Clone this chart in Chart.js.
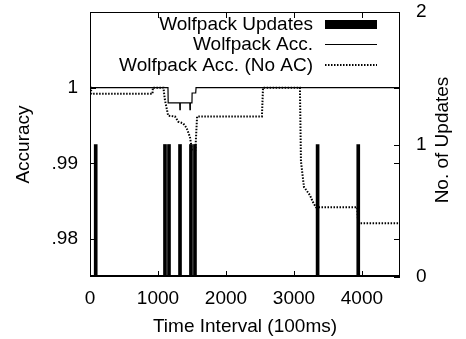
<!DOCTYPE html>
<html>
<head>
<meta charset="utf-8">
<script src="https://cdn.jsdelivr.net/npm/chart.js@4/dist/chart.umd.min.js"></script>
<style>
  html, body { margin: 0; padding: 0; background: #fff; }
  #wrap { width: 466px; height: 339px; }
</style>
</head>
<body>
<div id="wrap"><canvas id="accChart" width="466" height="339"></canvas></div>
<script>
// data
const updateTimes = [84, 1103, 1162, 1324, 1485, 1544, 3348, 3946];
const updateCounts = [1, 1, 1, 1, 1, 1, 1, 1];

const accTimes = [0, 1147, 1150, 1320, 1322, 1326, 1328, 1468, 1470, 1474, 1476, 1500, 1502, 1555, 1560, 4560];
const accValues = [1, 1, 0.998, 0.998, 0.9971, 0.9971, 0.998, 0.998, 0.9971, 0.9971, 0.998, 0.998, 0.9993, 0.9993, 1, 1];

const noAcTimes = [0, 15, 18, 920, 925, 1080, 1100, 1150, 1250, 1300, 1370, 1420, 1470, 1500, 1550, 1575, 2529, 2545, 3088, 3103, 3147, 3235, 3279, 3324, 3930, 3945, 4560];
const noAcValues = [1, 1, 0.9992, 0.9992, 1, 1, 0.9985, 0.9963, 0.9962, 0.9955, 0.9953, 0.9947, 0.9935, 0.9918, 0.9918, 0.9962, 0.9962, 1, 1, 0.9903, 0.9869, 0.9858, 0.9849, 0.9842, 0.9842, 0.9821, 0.9821];

const xTicks = [0, 1000, 2000, 3000, 4000];
const xTickLabels = ["0", "1000", "2000", "3000", "4000"];
const accTicks = [0.98, 0.99, 1];
const accTickLabels = [".98", ".99", "1"];
const updTicks = [0, 1, 2];

const FONT = "'Liberation Sans', Arial, sans-serif";
const FSIZE = 19;

function toPoints(xs, ys) {
    return xs.map((x, i) => ({ x: x, y: ys[i] }));
}

function noPad(s) {
    s.paddingTop = 0;
    s.paddingBottom = 0;
    s.paddingLeft = 0;
    s.paddingRight = 0;
}

// inward ticks + frame, gnuplot style
const framePlugin = {
    id: "frame",
    afterDraw(chart) {
        const ctx = chart.ctx;
        const a = chart.chartArea;
        const sx = chart.scales.x, sy = chart.scales.y, sy2 = chart.scales.y2;
        ctx.save();
        ctx.strokeStyle = "#000";
        ctx.lineWidth = 1;
        ctx.beginPath();
        ctx.moveTo(a.left + 0.5, a.bottom);
        ctx.lineTo(a.left + 0.5, a.top + 0.5);
        ctx.lineTo(a.right - 0.5, a.top + 0.5);
        ctx.lineTo(a.right - 0.5, a.bottom);
        ctx.stroke();
        ctx.lineWidth = 2;
        ctx.beginPath();
        ctx.moveTo(a.left, a.bottom - 1);
        ctx.lineTo(a.right, a.bottom - 1);
        ctx.stroke();

        ctx.lineWidth = 1;
        ctx.beginPath();
        xTicks.forEach(v => {
            let px = Math.round(sx.getPixelForValue(v)) + 0.5;
            ctx.moveTo(px, a.bottom);
            ctx.lineTo(px, a.bottom - 6);
            ctx.moveTo(px, a.top);
            ctx.lineTo(px, a.top + 6);
        });
        accTicks.forEach(v => {
            let py = Math.round(sy.getPixelForValue(v)) + 0.5;
            ctx.moveTo(a.left, py);
            ctx.lineTo(a.left + 6, py);
            ctx.moveTo(a.right, py);
            ctx.lineTo(a.right - 6, py);
        });
        updTicks.forEach(v => {
            let py = Math.round(sy2.getPixelForValue(v)) + 0.5;
            ctx.moveTo(a.right, py);
            ctx.lineTo(a.right - 6, py);
        });
        ctx.stroke();

        // right axis title, reads bottom to top
        ctx.fillStyle = "#000";
        ctx.font = FSIZE + "px " + FONT;
        ctx.textAlign = "center";
        ctx.textBaseline = "middle";
        ctx.translate(443, 140);
        ctx.rotate(-Math.PI / 2);
        ctx.fillText("No. of Updates", 0, 0);
        ctx.restore();

        // key
        const rows = [24, 44, 65];
        const ds = chart.data.datasets;
        ctx.save();
        ctx.font = FSIZE + "px " + FONT;
        ctx.fillStyle = "#000";
        ctx.textAlign = "right";
        ctx.textBaseline = "middle";
        ds.forEach((d, i) => {
            ctx.fillText(d.label, 313, rows[i] + 1);
        });
        ctx.fillRect(325, rows[0] - 4, 52, 9);
        ctx.strokeStyle = "#000";
        ctx.lineWidth = 1.2;
        ctx.beginPath();
        ctx.moveTo(325, rows[1] + 0.5);
        ctx.lineTo(377, rows[1] + 0.5);
        ctx.stroke();
        ctx.lineWidth = 2;
        ctx.setLineDash([1.5, 1.5]);
        ctx.beginPath();
        ctx.moveTo(325, rows[2]);
        ctx.lineTo(377, rows[2]);
        ctx.stroke();
        ctx.restore();
    }
};

let ctx = document.getElementById("accChart").getContext("2d");
let chart = new Chart(ctx, {
    type: "bar",
    data: {
        datasets: [{
            type: "bar",
            label: "Wolfpack Updates",
            data: toPoints(updateTimes, updateCounts),
            yAxisID: "y2",
            backgroundColor: "#000",
            barThickness: 3,
            grouped: false,
            order: 3
        }, {
            type: "line",
            label: "Wolfpack Acc.",
            data: toPoints(accTimes, accValues),
            yAxisID: "y",
            borderColor: "#000",
            borderWidth: 1.2,
            pointRadius: 0,
            tension: 0,
            fill: false,
            order: 2
        }, {
            type: "line",
            label: "Wolfpack Acc. (No AC)",
            data: toPoints(noAcTimes, noAcValues),
            yAxisID: "y",
            borderColor: "#000",
            borderWidth: 2,
            borderDash: [1.5, 1.5],
            pointRadius: 0,
            tension: 0,
            fill: false,
            order: 1
        }]
    },
    options: {
        responsive: false,
        animation: false,
        layout: { padding: { top: 12, left: 0, right: 0, bottom: 0 } },
        plugins: { legend: { display: false }, tooltip: { enabled: false } },
        scales: {
            x: {
                type: "linear",
                min: 0,
                max: 4560,
                offset: false,
                grid: { display: false, drawTicks: false },
                border: { display: false },
                afterBuildTicks: s => { s.ticks = xTicks.map(v => ({ value: v })); },
                afterFit: s => { s.height = 62; noPad(s); },
                ticks: {
                    color: "#000",
                    font: { family: FONT, size: FSIZE },
                    padding: 10,
                    maxRotation: 0,
                    callback: (v) => xTickLabels[xTicks.indexOf(v)]
                },
                title: { display: true, text: "Time Interval (100ms)", color: "#000", font: { family: FONT, size: FSIZE }, padding: { top: 0, bottom: 1 } }
            },
            y: {
                position: "left",
                min: 0.975,
                max: 1.01,
                grid: { display: false, drawTicks: false },
                border: { display: false },
                afterBuildTicks: s => { s.ticks = accTicks.map(v => ({ value: v })); },
                afterFit: s => { s.width = 90; noPad(s); },
                ticks: {
                    color: "#000",
                    font: { family: FONT, size: FSIZE },
                    padding: 12,
                    callback: (v) => accTickLabels[accTicks.indexOf(v)]
                },
                title: { display: true, text: "Accuracy", color: "#000", font: { family: FONT, size: FSIZE }, padding: { top: 12, bottom: 0 } }
            },
            y2: {
                position: "right",
                min: 0,
                max: 2,
                grid: { display: false, drawTicks: false },
                border: { display: false },
                afterBuildTicks: s => { s.ticks = updTicks.map(v => ({ value: v })); },
                afterFit: s => { s.width = 66; noPad(s); },
                ticks: { color: "#000", font: { family: FONT, size: FSIZE }, padding: 16 }
            }
        }
    },
    plugins: [framePlugin]
});
</script>
</body>
</html>
